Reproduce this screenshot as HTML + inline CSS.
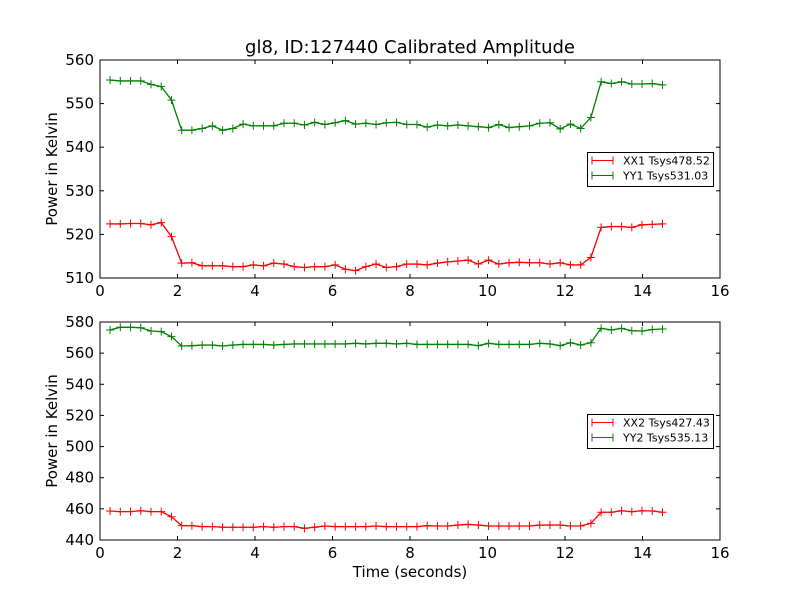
<!DOCTYPE html>
<html><head><meta charset="utf-8"><style>
body{margin:0;background:#fff;}
svg{display:block;font-family:"DejaVu Sans","Liberation Sans",sans-serif;}
</style></head><body>
<svg id="chart" width="800" height="600" viewBox="0 0 800 600">
<rect width="800" height="600" fill="#fff"/>
<text x="410" y="53" font-size="18" text-anchor="middle">gl8, ID:127440 Calibrated Amplitude</text>
<g id="g1"></g><g id="g2"></g>
<text x="410" y="577" font-size="15" text-anchor="middle">Time (seconds)</text>
</svg>
<script>
const xx1 = [522.4,522.4,522.5,522.5,522.2,522.7,519.5,513.4,513.5,512.8,512.8,512.8,512.6,512.6,513.0,512.8,513.4,513.2,512.6,512.4,512.6,512.6,513.0,512.0,511.7,512.6,513.2,512.4,512.6,513.2,
513.2,513.0,513.4,513.7,513.9,514.1,513.2,514.1,513.2,513.5,513.6,513.5,513.5,513.2,513.5,513.0,513.0,514.7,521.6,521.8,521.8,521.6,522.2,522.3,522.4];
const yy1 = [555.4,555.2,555.2,555.2,554.4,553.9,550.8,543.9,543.9,544.3,544.9,543.9,544.3,545.3,544.9,544.9,544.9,545.5,545.5,545.1,545.7,545.2,545.6,546.1,545.3,545.5,545.2,545.6,545.7,545.2,
545.2,544.6,545.1,544.9,545.1,544.9,544.7,544.5,545.2,544.5,544.7,544.9,545.5,545.6,544.2,545.3,544.3,546.8,555.0,554.6,555.0,554.5,554.5,554.6,554.3];
const xx2 = [458.6,458.2,458.2,458.8,458.2,458.2,454.9,449.2,449.2,448.6,448.6,448.2,448.2,448.2,448.2,448.6,448.2,448.6,448.6,447.5,448.2,449.0,448.6,448.6,448.6,448.6,449.0,448.6,448.6,448.6,
448.6,449.2,449.0,449.0,449.6,450.0,449.6,449.0,449.0,449.0,449.0,449.0,449.6,449.6,449.6,449.0,449.0,450.7,457.8,457.8,458.8,458.2,458.8,458.6,457.8];
const yy2 = [574.9,576.6,576.6,576.3,574.2,573.8,570.6,564.6,564.8,565.2,565.2,564.6,565.2,565.6,565.6,565.6,565.2,565.6,565.9,565.9,565.9,565.9,565.9,565.9,566.3,565.9,566.3,566.3,565.9,566.3,
565.6,565.6,565.6,565.6,565.6,565.6,564.8,566.3,565.6,565.6,565.6,565.6,566.3,565.9,564.8,566.7,565.2,566.7,575.9,574.9,575.9,574.4,574.2,575.2,575.5];
const tStart = 0.26, tStep = 0.264;
const xTicks = [0,2,4,6,8,10,12,14,16];
const yTicks1 = [510,520,530,540,550,560];
const yTicks2 = [440,460,480,500,520,540,560,580];
const legend1 = ["XX1 Tsys478.52","YY1 Tsys531.03"];
const legend2 = ["XX2 Tsys427.43","YY2 Tsys535.13"];

const NS="http://www.w3.org/2000/svg";
function mk(tag,attrs,parent){const e=document.createElementNS(NS,tag);for(const k in attrs)e.setAttribute(k,attrs[k]);parent.appendChild(e);return e;}
function panel(g,top,bottom,ymin,ymax,yTicks,s1,s2,leg,legTop,label){
  const L=100,R=720;
  const xs=v=>L+(v-0)/(16-0)*(R-L);
  const ys=v=>bottom-(v-ymin)/(ymax-ymin)*(bottom-top);
  const frame=mk('rect',{x:L,y:top,width:R-L,height:bottom-top,fill:'none',stroke:'#000','stroke-width':1},g);
  
  
  xTicks.forEach(t=>{
    const x=xs(t);
    mk('line',{x1:x,y1:bottom,x2:x,y2:bottom-4,stroke:'#000'},g);
    mk('line',{x1:x,y1:top,x2:x,y2:top+4,stroke:'#000'},g);
    const tx=mk('text',{x:x,y:bottom+18,'font-size':15,'text-anchor':'middle'},g);
    tx.textContent=t;
    
    
  });
  yTicks.forEach(t=>{
    const y=ys(t);
    mk('line',{x1:L,y1:y,x2:L+4,y2:y,stroke:'#000'},g);
    mk('line',{x1:R,y1:y,x2:R-4,y2:y,stroke:'#000'},g);
    const tx=mk('text',{x:L-6,y:y+5,'font-size':15,'text-anchor':'end'},g);
    tx.textContent=t;
    
    
  });
  const yt=mk('text',{x:0,y:0,'font-size':15,'text-anchor':'middle',transform:`translate(57,${(top+bottom)/2}) rotate(-90)`},g);
  yt.textContent='Power in Kelvin';
  
  
  [[s1,'#ff0000','xx'],[s2,'#008000','yy']].forEach(([s,c,n])=>{
    const pts=s.map((v,i)=>[xs(tStart+i*tStep),ys(v)]);
    const pl=mk('polyline',{points:pts.map(p=>p.join(',')).join(' '),fill:'none',stroke:c,'stroke-width':1.3},g);
    
    
    pts.forEach(p=>{
      const m=mk('path',{d:`M${p[0]-4},${p[1]}h8M${p[0]},${p[1]-4}v8`,stroke:c,'stroke-width':1},g);
      
      
    });
  });
  const lg=mk('g',{},g);
  
  
  mk('rect',{x:587.5,y:legTop+0.5,width:126,height:34,fill:'#fff',stroke:'#000'},lg);
  leg.forEach((t,i)=>{
    const c=i?'#008000':'#ff0000';const y=legTop+8.5+i*15;
    mk('path',{d:`M592,${y}h21M592,${y-4}v8M613,${y-4}v8`,stroke:c,'stroke-width':1},lg);
    const tx=mk('text',{x:623,y:y+4,'font-size':11},lg);
    tx.textContent=t;
    
    
  });
}
panel(document.getElementById('g1'),60,278,510,560,yTicks1,xx1,yy1,legend1,152,'top');
panel(document.getElementById('g2'),322,540,440,580,yTicks2,xx2,yy2,legend2,414,'bottom');
</script>
</body></html>
